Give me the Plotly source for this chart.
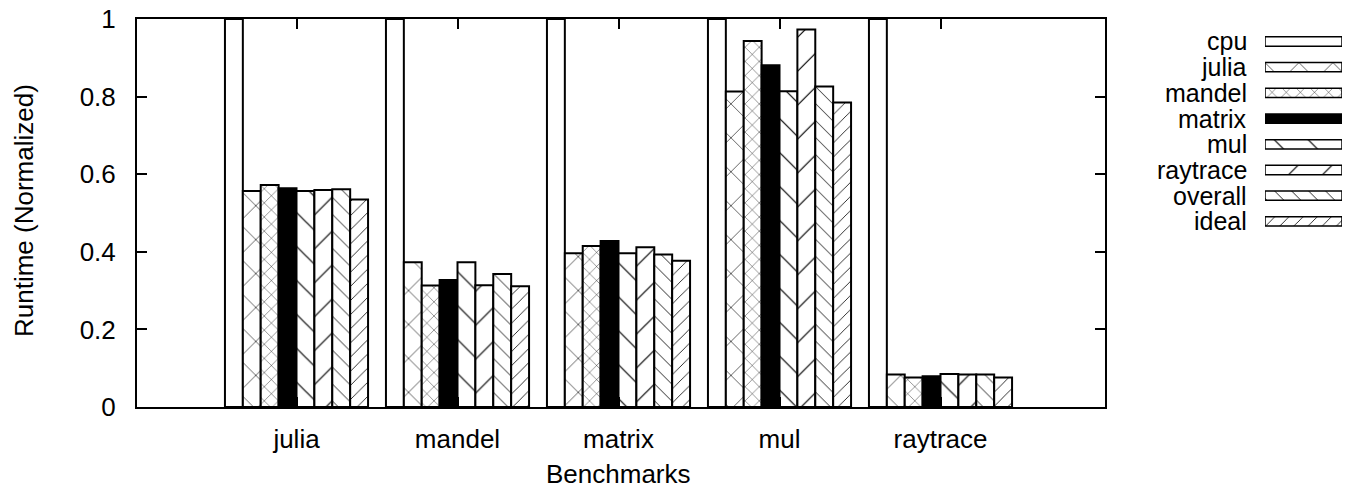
import plotly.graph_objects as go

benchmarks = ["julia", "mandel", "matrix", "mul", "raytrace"]
series = ["cpu", "julia", "mandel", "matrix", "mul", "raytrace", "overall", "ideal"]

cpu_vals      = [1.0, 1.0, 1.0, 1.0, 1.0]
julia_vals    = [0.557, 0.373, 0.396, 0.813, 0.084]
mandel_vals   = [0.572, 0.313, 0.415, 0.943, 0.076]
matrix_vals   = [0.564, 0.327, 0.428, 0.881, 0.079]
mul_vals      = [0.557, 0.373, 0.396, 0.814, 0.085]
raytrace_vals = [0.559, 0.314, 0.412, 0.973, 0.084]
overall_vals  = [0.561, 0.343, 0.393, 0.826, 0.084]
ideal_vals    = [0.535, 0.311, 0.377, 0.785, 0.076]

values = [cpu_vals, julia_vals, mandel_vals, matrix_vals, mul_vals,
          raytrace_vals, overall_vals, ideal_vals]

y_ticks = [0, 0.2, 0.4, 0.6, 0.8, 1.0]
y_ticklabels = ["0", "0.2", "0.4", "0.6", "0.8", "1"]

# pattern styles (shape, size, solidity, fill colour)
styles = [
    ("", 8, 0.1, "white"),
    ("x", 24, 0.05, "white"),
    ("x", 10, 0.08, "white"),
    ("", 8, 0.1, "black"),
    ("\\", 24, 0.05, "white"),
    ("/", 24, 0.05, "white"),
    ("\\", 12, 0.07, "white"),
    ("/", 10, 0.08, "white"),
]

FONT = "Liberation Sans, Arial, Helvetica, sans-serif"
FS = 26

# the page body has an 8px margin; work in page pixels and offset
OFF = 8
W, H = 1351 - OFF, 489 - OFF
L, R_px, T, B_px = 137 - OFF, 1105 - OFF, 19 - OFF, 407 - OFF
paper_w = W - L
plot_h = B_px - T

fig = go.Figure()

for name, vals, (shape, size, sol, col) in zip(series, values, styles):
    fig.add_trace(go.Bar(
        x=benchmarks, y=vals, name=name, showlegend=False,
        marker=dict(color=col,
                    line=dict(color="black", width=2),
                    pattern=dict(shape=shape, size=size, solidity=sol,
                                 fgcolor="black", bgcolor=col,
                                 fillmode="replace")),
        xaxis="x", yaxis="y",
    ))

# legend keys: one horizontal bar per series on a helper axis
for i, (name, (shape, size, sol, col)) in enumerate(zip(series, styles)):
    fig.add_trace(go.Bar(
        x=[1], y=[i], orientation="h", width=0.36, base=0,
        showlegend=False, hoverinfo="skip", offset=-0.18,
        marker=dict(color=col,
                    line=dict(color="black", width=1.5),
                    pattern=dict(shape=shape, size=size, solidity=sol,
                                 fgcolor="black", bgcolor=col,
                                 fillmode="replace")),
        xaxis="x2", yaxis="y2",
    ))

row0, row_sp = 41.5 - OFF, 25.7
y2_top = row0 - row_sp / 2
y2_bot = row0 + 7 * row_sp + row_sp / 2

for i, name in enumerate(series):
    fig.add_annotation(text=name, xref="paper", yref="y2",
                       x=(1248 - OFF - L) / paper_w, y=i, xanchor="right",
                       yanchor="middle", showarrow=False, borderpad=0,
                       font=dict(family=FONT, size=FS - 1, color="black"))

# axis titles
fig.add_annotation(text="Benchmarks", xref="paper", yref="paper",
                   x=(618 - OFF - L) / paper_w, y=(B_px - (474 - OFF)) / plot_h,
                   xanchor="center", yanchor="middle", showarrow=False,
                   borderpad=0, font=dict(family=FONT, size=FS, color="black"))
fig.add_annotation(text="Runtime (Normalized)", xref="paper", yref="paper",
                   x=(24 - OFF - L) / paper_w, y=(B_px - (211 - OFF)) / plot_h,
                   xanchor="center", yanchor="middle", textangle=-90,
                   showarrow=False, borderpad=0,
                   font=dict(family=FONT, size=FS, color="black"))

fig.update_layout(
    width=W, height=H,
    margin=dict(l=L, r=0, t=T, b=H - B_px, pad=0, autoexpand=False),
    paper_bgcolor="white", plot_bgcolor="white",
    barmode="group", bargap=1 / 9, bargroupgap=0,
    font=dict(family=FONT, size=FS, color="black"),
    xaxis=dict(
        domain=[0, (R_px - L) / paper_w],
        type="category", range=[-0.9907, 5.0217],
        showline=True, linecolor="black", linewidth=2, mirror="ticks",
        ticks="inside", ticklen=10, tickwidth=1.5, tickcolor="black",
        showgrid=False, zeroline=False, automargin=False,
        ticklabelstandoff=8, ticklabeloverflow="allow",
    ),
    yaxis=dict(
        range=[0, 1], tickvals=y_ticks, ticktext=y_ticklabels,
        showline=True, linecolor="black", linewidth=2, mirror="ticks",
        ticks="inside", ticklen=10, tickwidth=1.5, tickcolor="black",
        showgrid=False, zeroline=False, automargin=False,
        ticklabelstandoff=14, ticklabeloverflow="allow",
    ),
    xaxis2=dict(
        domain=[(1265 - OFF - L) / paper_w, (1342 - OFF - L) / paper_w],
        range=[0, 1], visible=False, anchor="y2", automargin=False,
    ),
    yaxis2=dict(
        domain=[(B_px - y2_bot) / plot_h, (B_px - y2_top) / plot_h],
        range=[7.5, -0.5], visible=False, anchor="x2", automargin=False,
    ),
)

fig.write_html("out.html")
